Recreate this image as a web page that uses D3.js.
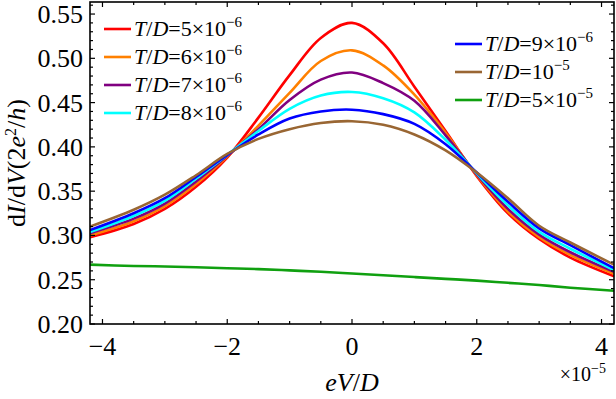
<!DOCTYPE html>
<html>
<head>
<meta charset="utf-8">
<script src="https://cdn.jsdelivr.net/npm/d3@7"></script>
<style>
  body { margin: 0; background: #fff; }
  text { font-family: "Liberation Serif", "DejaVu Serif", serif; fill: #000; }
</style>
</head>
<body>
<svg id="chart" width="616" height="399"></svg>
<script>
// eV/D in units of 1e-5
var xs     = [-4.2, -3.5, -3, -2.5, -2, -1.5, -1, -0.5, 0, 0.5, 1, 1.5, 2, 2.5, 3, 3.5, 4.2];
var red    = [0.298, 0.313, 0.330, 0.355, 0.388, 0.433, 0.481, 0.523, 0.540, 0.517, 0.468, 0.418, 0.367, 0.325, 0.296, 0.275, 0.254];
var orange = [0.300, 0.316, 0.333, 0.358, 0.389, 0.424, 0.461, 0.497, 0.509, 0.492, 0.459, 0.416, 0.368, 0.327, 0.298, 0.278, 0.2566];
var purple = [0.3025, 0.319, 0.336, 0.361, 0.390, 0.420, 0.453, 0.476, 0.484, 0.472, 0.452, 0.413, 0.369, 0.330, 0.301, 0.281, 0.259];
var cyan   = [0.304, 0.322, 0.339, 0.364, 0.391, 0.418, 0.443, 0.458, 0.462, 0.455, 0.439, 0.408, 0.370, 0.334, 0.304, 0.285, 0.261];
var blue   = [0.306, 0.325, 0.342, 0.366, 0.391, 0.414, 0.432, 0.440, 0.442, 0.437, 0.426, 0.403, 0.371, 0.338, 0.308, 0.289, 0.263];
var brown  = [0.310, 0.329, 0.346, 0.368, 0.392, 0.409, 0.420, 0.427, 0.429, 0.425, 0.414, 0.396, 0.371, 0.342, 0.311, 0.292, 0.267];
var green  = [0.267, 0.2655, 0.265, 0.264, 0.263, 0.262, 0.2605, 0.259, 0.257, 0.255, 0.253, 0.251, 0.249, 0.2465, 0.244, 0.241, 0.2375];

var seriesNames  = ["5×10", "6×10", "7×10", "8×10", "9×10", "10", "5×10"];
var seriesExps   = ["−6", "−6", "−6", "−6", "−6", "−5", "−5"];
var seriesColors = ["#ff0000", "#ff8000", "#800080", "#00ffff", "#0000ff", "#996633", "#10a010"];
var series = [red, orange, purple, cyan, blue, brown, green];

var xTicks = [-4, -2, 0, 2, 4];
var yTicks = [0.20, 0.25, 0.30, 0.35, 0.40, 0.45, 0.50, 0.55];

var svg = d3.select("#chart");
var pLeft = 90, pRight = 614, pTop = 2, pBottom = 324;

var x = d3.scaleLinear().domain([-4.2, 4.2]).range([pLeft, pRight]);
var y = d3.scaleLinear().domain([0.2, 0.5636]).range([pBottom, pTop]);

svg.append("clipPath").attr("id", "plotclip")
  .append("rect").attr("x", pLeft).attr("y", pTop)
  .attr("width", pRight - pLeft).attr("height", pBottom - pTop);

var line = d3.line()
  .x(function(d){ return x(d[0]); })
  .y(function(d){ return y(d[1]); })
  .curve(d3.curveCatmullRom.alpha(0.5));

svg.append("g").attr("clip-path", "url(#plotclip)")
  .selectAll("path")
  .data(series)
  .enter()
  .append("path")
  .attr("d", function(s){ return line(s.map(function(v, i){ return [xs[i], v]; })); })
  .attr("fill", "none")
  .attr("stroke", function(d, i){ return seriesColors[i]; })
  .attr("stroke-width", 2.6);

// frame ticks (inward, on all four sides)
var xMinor = d3.range(-4, 4.01, 0.5);
var yMinor = d3.range(0.20, 0.5601, 0.01);
var ticks = svg.append("g").attr("stroke", "#000").attr("stroke-width", 1.2);

xMinor.forEach(function(v){
  var major = Math.abs(v - Math.round(v / 2) * 2) < 1e-6;
  var len = major ? 5 : 3;
  ticks.append("line").attr("x1", x(v)).attr("x2", x(v)).attr("y1", pBottom).attr("y2", pBottom - len);
  ticks.append("line").attr("x1", x(v)).attr("x2", x(v)).attr("y1", pTop).attr("y2", pTop + len);
});
yMinor.forEach(function(v){
  var major = Math.abs(v * 20 - Math.round(v * 20)) < 1e-6;
  var len = major ? 5 : 3;
  ticks.append("line").attr("y1", y(v)).attr("y2", y(v)).attr("x1", pLeft).attr("x2", pLeft + len);
  ticks.append("line").attr("y1", y(v)).attr("y2", y(v)).attr("x1", pRight).attr("x2", pRight - len);
});

svg.append("rect")
  .attr("x", pLeft).attr("y", pTop)
  .attr("width", pRight - pLeft).attr("height", pBottom - pTop)
  .attr("fill", "none").attr("stroke", "#000").attr("stroke-width", 1.6);

// tick labels
svg.selectAll(".xl")
  .data(xTicks)
  .enter()
  .append("text")
  .attr("x", function(d){ return x(d); })
  .attr("y", 355)
  .attr("text-anchor", "middle")
  .attr("font-size", 26)
  .text(function(d){ return d < 0 ? "−" + Math.abs(d) : d; });

svg.selectAll(".yl")
  .data(yTicks)
  .enter()
  .append("text")
  .attr("x", 83)
  .attr("y", function(d){ return y(d) + 9; })
  .attr("text-anchor", "end")
  .attr("font-size", 26)
  .text(function(d){ return d.toFixed(2); });

// axis titles
var xt = svg.append("text").attr("x", 352).attr("y", 391)
  .attr("text-anchor", "middle").attr("font-size", 26);
xt.append("tspan").attr("font-style", "italic").text("eV");
xt.append("tspan").text("/");
xt.append("tspan").attr("font-style", "italic").text("D");

var xs5 = svg.append("text").attr("x", 606).attr("y", 381)
  .attr("text-anchor", "end").attr("font-size", 20);
xs5.append("tspan").text("×10");
xs5.append("tspan").attr("dy", -8).attr("font-size", 14).text("−5");

var yt = svg.append("text")
  .attr("transform", "translate(25,163) rotate(-90)")
  .attr("text-anchor", "middle").attr("font-size", 26);
yt.append("tspan").text("d");
yt.append("tspan").attr("font-style", "italic").text("I");
yt.append("tspan").text("/d");
yt.append("tspan").attr("font-style", "italic").text("V");
yt.append("tspan").text("(2");
yt.append("tspan").attr("font-style", "italic").text("e");
yt.append("tspan").attr("dy", -9).attr("font-size", 16).text("2");
yt.append("tspan").attr("dy", 9).text("/");
yt.append("tspan").attr("font-style", "italic").text("h");
yt.append("tspan").text(")");

// legend
var legendPos = [
  [104, 29], [104, 57], [104, 85], [104, 113],
  [455, 44], [455, 72], [455, 100]
];
var legend = svg.append("g");
seriesNames.forEach(function(name, i){
  var p = legendPos[i];
  legend.append("line")
    .attr("x1", p[0]).attr("x2", p[0] + 27)
    .attr("y1", p[1]).attr("y2", p[1])
    .attr("stroke", seriesColors[i]).attr("stroke-width", 2.6);
  var t = legend.append("text")
    .attr("x", p[0] + 30).attr("y", p[1] + 7)
    .attr("font-size", 22);
  t.append("tspan").attr("font-style", "italic").text("T");
  t.append("tspan").text("/");
  t.append("tspan").attr("font-style", "italic").text("D");
  t.append("tspan").text("=" + name);
  t.append("tspan").attr("dy", -9).attr("font-size", 15).text(seriesExps[i]);
});
</script>
</body>
</html>
